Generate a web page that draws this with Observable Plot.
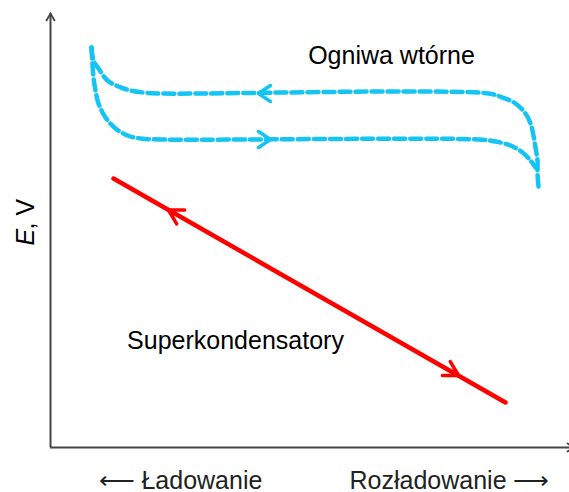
<!DOCTYPE html>
<html>
<head>
<meta charset="utf-8">
<script src="https://cdn.jsdelivr.net/npm/d3@7"></script>
<script src="https://cdn.jsdelivr.net/npm/@observablehq/plot@0.6"></script>
<style>
  html, body { margin: 0; padding: 0; background: #fff; overflow: hidden; }
</style>
</head>
<body>
<div id="chart"></div>
<script>
// Secondary cells (Ogniwa wtórne): upper curve (discharge, arrow to the left)
const upperX = [41, 43, 48, 57, 68, 80, 93, 110, 438, 452, 465, 475, 480, 483, 485, 487, 487, 488];
const upperY = [400, 387, 379, 367, 361, 357, 355, 354, 354, 350, 344, 334, 324, 312, 300, 287, 274, 261];
// lower curve (charge, arrow to the right)
const lowerX = [41, 43, 45, 48, 55, 65, 77, 90, 110, 428, 445, 460, 472, 480, 485];
const lowerY = [400, 370, 357, 344, 330, 319, 312, 309, 308, 308, 306, 302, 295, 287, 280];
// Supercapacitors (Superkondensatory): straight line
const superX = [63, 455];
const superY = [269, 45];
// arrow-head positions along the curves
const cyanArrowX = [208, 220];
const cyanArrowY = [354, 308];
const cyanArrowDir = [-90, 90];
const redArrowX = [118, 408];
const redArrowY = [237.5, 72];
// texts
const seriesLabels = ["Ogniwa wtórne", "Superkondensatory"];
const axisLabels = ["⟵ Ładowanie", "Rozładowanie ⟶"];
const yLabelParts = ["E", ", V"];

const XMAX = 518, YMAX = 434;
const cyan = "#14C4F4";
const red = "#FF0000";
const axisColor = "#444";

const upper = upperX.map((x, i) => ({x, y: upperY[i]}));
const lower = lowerX.map((x, i) => ({x, y: lowerY[i]}));
const sup = superX.map((x, i) => ({x, y: superY[i]}));
const cyanArrows = cyanArrowX.map((x, i) => ({x, y: cyanArrowY[i], dir: cyanArrowDir[i]}));
// direction of red arrows follows the red line (first arrow toward start, second toward end)
const ang = Math.atan2(superX[1] - superX[0], superY[1] - superY[0]) * 180 / Math.PI; // clockwise from up
const redArrows = redArrowX.map((x, i) => ({x, y: redArrowY[i], dir: i === 0 ? ang + 180 : ang}));
const axisArrows = [{x: 0, y: YMAX, dir: 0}, {x: XMAX + 6, y: 0, dir: 90}];

const chevron = (a, b) => ({
  draw(ctx) { ctx.moveTo(-a, b); ctx.lineTo(0, 0); ctx.lineTo(a, b); }
});

const font = "'Liberation Sans', Arial, sans-serif";

const chart = Plot.plot({
  width: 569,
  height: 492,
  marginLeft: 50,
  marginRight: 1,
  marginTop: 13,
  marginBottom: 45,
  x: {domain: [0, XMAX], axis: null},
  y: {domain: [0, YMAX], axis: null},
  style: {fontFamily: font, background: "#fff", overflow: "hidden"},
  marks: [
    // axes
    Plot.ruleX([0], {y1: 0, y2: YMAX, stroke: axisColor, strokeWidth: 2}),
    Plot.ruleY([0], {x1: 0, x2: XMAX + 6, stroke: axisColor, strokeWidth: 2}),
    Plot.vector(axisArrows, {x: "x", y: "y", rotate: "dir", anchor: "start", shape: chevron(4, 7), stroke: axisColor, strokeWidth: 1.8, strokeLinejoin: "miter"}),
    // secondary cells
    Plot.line(upper, {x: "x", y: "y", curve: "catmull-rom", stroke: cyan, strokeWidth: 4.5, strokeDasharray: "11,5"}),
    Plot.line(lower, {x: "x", y: "y", curve: "catmull-rom", stroke: cyan, strokeWidth: 4.5, strokeDasharray: "11,5"}),
    Plot.vector(cyanArrows, {x: "x", y: "y", rotate: "dir", anchor: "start", shape: chevron(8, 12), stroke: cyan, strokeWidth: 3.5}),
    // supercapacitors
    Plot.line(sup, {x: "x", y: "y", stroke: red, strokeWidth: 4.5}),
    Plot.vector(redArrows, {x: "x", y: "y", rotate: "dir", anchor: "start", shape: chevron(8, 14), stroke: red, strokeWidth: 3.5}),
    // texts
    Plot.text([seriesLabels[0]], {x: 341, y: 392, text: d => d, fontSize: 25, fill: "#000"}),
    Plot.text([seriesLabels[1]], {x: 185, y: 107, text: d => d, fontSize: 25, fill: "#000"}),
    Plot.text([axisLabels[0]], {x: 48, y: -33, text: d => d, fontSize: 25, fill: "#222", textAnchor: "start"}),
    Plot.text([axisLabels[1]], {x: 499, y: -33, text: d => d, fontSize: 25, fill: "#222", textAnchor: "end"}),
    Plot.text([yLabelParts[0]], {x: -25, y: 202, text: d => d, fontSize: 25, fontStyle: "italic", rotate: -90, textAnchor: "start", fill: "#000"}),
    Plot.text([yLabelParts[1]], {x: -25, y: 218, text: d => d, fontSize: 25, rotate: -90, textAnchor: "start", fill: "#000"})
  ]
});
document.getElementById("chart").appendChild(chart);
</script>
</body>
</html>
